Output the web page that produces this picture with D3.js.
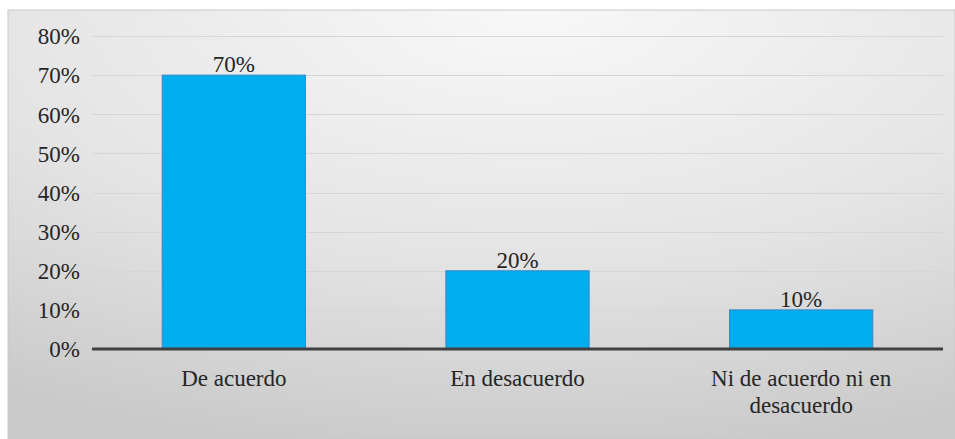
<!DOCTYPE html>
<html>
<head>
<meta charset="UTF-8">
<script src="https://d3js.org/d3.v7.min.js"></script>
</head>
<body style="margin:0">
<script>
  const categories = ["De acuerdo", "En desacuerdo", "Ni de acuerdo ni en desacuerdo"];
  const labelLines = [["De acuerdo"], ["En desacuerdo"], ["Ni de acuerdo ni en", "desacuerdo"]];
  const values = [0.70, 0.20, 0.10];
  const yTicks = [0, 0.1, 0.2, 0.3, 0.4, 0.5, 0.6, 0.7, 0.8];

  const width = 955, height = 439;
  const plot = { left: 92, right: 943, top: 36, bottom: 349 };
  const fmt = d3.format(".0%");
  const fontSize = 23;
  const textColor = "#262626";

  const svg = d3.select("body").append("svg")
      .attr("width", width)
      .attr("height", height);

  const defs = svg.append("defs");
  const grad = defs.append("radialGradient")
      .attr("id", "bg")
      .attr("cx", "55%").attr("cy", "0%")
      .attr("r", "105%")
      .attr("fx", "55%").attr("fy", "0%");
  grad.append("stop").attr("offset", "0%").attr("stop-color", "#f8f8f8");
  grad.append("stop").attr("offset", "55%").attr("stop-color", "#e4e4e4");
  grad.append("stop").attr("offset", "100%").attr("stop-color", "#c9c9c9");

  // chart area background
  svg.append("rect")
      .attr("x", 8).attr("y", 10)
      .attr("width", width - 8).attr("height", height - 10)
      .attr("fill", "url(#bg)")
      .attr("stroke", "#c8c8c8")
      .attr("stroke-width", 1);

  const x = d3.scaleBand()
      .domain(categories)
      .range([plot.left, plot.right])
      .paddingInner(0.495)
      .paddingOuter(0.2475);

  const y = d3.scaleLinear()
      .domain([0, 0.8])
      .range([plot.bottom, plot.top]);

  // gridlines
  svg.append("g")
    .selectAll("line")
    .data(yTicks.slice(1))
    .join("line")
      .attr("x1", plot.left).attr("x2", plot.right)
      .attr("y1", d => Math.round(y(d)) + 0.5)
      .attr("y2", d => Math.round(y(d)) + 0.5)
      .attr("stroke", "#d6d6d6")
      .attr("stroke-width", 1);

  // all texts go in one group, built by hand so nothing overrides the font
  const texts = svg.append("g")
      .style("font-family", '"Times New Roman"');

  // y labels, placed with the scale
  texts.selectAll("text.ylab")
    .data(yTicks)
    .join("text")
      .attr("class", "ylab")
      .attr("x", plot.left - 12)
      .attr("y", d => y(d))
      .attr("dy", "0.36em")
      .attr("text-anchor", "end")
      .attr("fill", textColor)
      .style("font-family", '"Times New Roman"')
      .style("font-size", fontSize + "px")
      .text(d => fmt(d));

  // bars
  svg.append("g")
    .selectAll("rect")
    .data(values)
    .join("rect")
      .attr("x", (d, i) => x(categories[i]))
      .attr("y", d => y(d))
      .attr("width", x.bandwidth())
      .attr("height", d => y(0) - y(d))
      .attr("fill", "#00adef")
      .attr("stroke", "#3a86c8")
      .attr("stroke-width", 1);

  // value labels
  svg.append("g")
    .selectAll("text")
    .data(values)
    .join("text")
      .attr("x", (d, i) => x(categories[i]) + x.bandwidth() / 2)
      .attr("y", d => y(d) - 3)
      .attr("text-anchor", "middle")
      .attr("fill", textColor)
      .style("font-family", '"Times New Roman"')
      .style("font-size", fontSize + "px")
      .text(d => fmt(d));

  // baseline
  svg.append("line")
      .attr("x1", plot.left).attr("x2", plot.right)
      .attr("y1", y(0)).attr("y2", y(0))
      .attr("stroke", "#404040")
      .attr("stroke-width", 3);

  // category labels
  const cat = svg.append("g")
    .selectAll("text")
    .data(categories)
    .join("text")
      .attr("x", d => x(d) + x.bandwidth() / 2)
      .attr("y", 386)
      .attr("text-anchor", "middle")
      .attr("fill", textColor)
      .style("font-family", '"Times New Roman"')
      .style("font-size", fontSize + "px");
  cat.selectAll("tspan")
    .data((d, i) => labelLines[i])
    .join("tspan")
      .attr("x", function () { return this.parentNode.getAttribute("x"); })
      .attr("dy", (d, i) => i === 0 ? 0 : 27)
      .text(d => d);
</script>
</body>
</html>
